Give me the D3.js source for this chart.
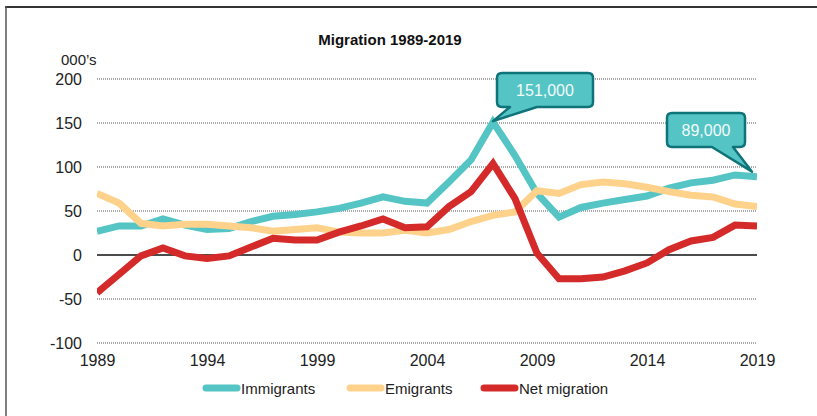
<!DOCTYPE html>
<html>
<head>
<meta charset="utf-8">
<script src="https://cdn.jsdelivr.net/npm/d3@7"></script>
<style>
html,body{margin:0;padding:0;background:#fff;}
svg{display:block;}
text{font-family:"Liberation Sans",Arial,sans-serif;}
</style>
</head>
<body>
<svg id="chart" width="817" height="416"></svg>
<script>
const years = [1989,1990,1991,1992,1993,1994,1995,1996,1997,1998,1999,2000,2001,2002,2003,2004,2005,2006,2007,2008,2009,2010,2011,2012,2013,2014,2015,2016,2017,2018,2019];
const immigrants = [27,33,33,41,34,29,30,38,44,46,49,53,59,66,61,59,83,108,151,113,70,43,54,59,63,67,76,82,85,91,89];
const emigrants = [70,59,36,33,35,35,33,31,27,29,31,26,25,25,28,25,29,38,45,49,73,70,80,83,81,77,72,68,66,58,55];
const netMigration = [-43,-22,-1,8,-1,-4,-1,9,19,17,17,26,33,41,31,32,55,72,104,64,2,-27,-27,-25,-18,-9,6,16,20,34,33];
const seriesNames = ["Immigrants","Emigrants","Net migration"];
const yTicks = [-100,-50,0,50,100,150,200];
const xTicks = [1989,1994,1999,2004,2009,2014,2019];
const callouts = [{year:2007, value:151, label:"151,000"},{year:2019, value:89, label:"89,000"}];
const title = "Migration 1989-2019";
const unitLabel = "000’s";

const colors = ["#55C4C4","#FFD28C","#D52A2A"];
const seriesData = [immigrants, emigrants, netMigration];

const svg = d3.select("#chart");
const x = d3.scaleLinear().domain([1989,2019]).range([97,757]);
const y = d3.scaleLinear().domain([-100,200]).range([343,79]);

// frame
svg.append("line").attr("x1",5).attr("x2",817).attr("y1",7).attr("y2",7).attr("stroke","#333").attr("stroke-width",2);
svg.append("line").attr("x1",6).attr("x2",6).attr("y1",6).attr("y2",416).attr("stroke","#555").attr("stroke-width",1.5);

// title
svg.append("text").attr("x",390).attr("y",45).attr("text-anchor","middle")
  .attr("font-size",15).attr("font-weight","bold").attr("fill","#111").text(title);
svg.append("text").attr("x",61).attr("y",65).attr("font-size",15).attr("fill","#222").text(unitLabel);

// grid
const grid = svg.append("g");
yTicks.forEach(t=>{
  grid.append("line").attr("x1",97).attr("x2",757).attr("y1",y(t)).attr("y2",y(t))
    .attr("stroke", t===0 ? "#111" : "#555")
    .attr("stroke-width", t===0 ? 1.5 : 1)
    .attr("stroke-dasharray", t===0 ? null : "1,1");
});

// y axis labels
const yAxis = d3.axisLeft(y).tickValues(yTicks).tickSize(0).tickPadding(0).tickFormat(d=>String(d));
const gy = svg.append("g").attr("transform","translate(82,0)").call(yAxis);
gy.select(".domain").remove();
gy.selectAll("text").attr("font-size",16).attr("fill","#222").attr("font-family","Liberation Sans, Arial, sans-serif");

// x axis labels
const xAxis = d3.axisBottom(x).tickValues(xTicks).tickSize(0).tickPadding(0).tickFormat(d=>String(d));
const gx = svg.append("g").attr("transform","translate(0,355)").call(xAxis);
gx.select(".domain").remove();
gx.selectAll("text").attr("font-size",16).attr("fill","#222").attr("font-family","Liberation Sans, Arial, sans-serif");

// clip
svg.append("clipPath").attr("id","plotclip").append("rect").attr("x",97).attr("y",0).attr("width",660).attr("height",416);

const line = d3.line().x((d,i)=>x(years[i])).y(d=>y(d));
const lines = svg.append("g").attr("clip-path","url(#plotclip)");
seriesData.forEach((s,k)=>{
  lines.append("path").datum(s).attr("d",line).attr("fill","none")
    .attr("stroke",colors[k]).attr("stroke-width",7).attr("stroke-linejoin","miter");
});

// callouts
const boxes = [
  {x0:497,y0:73,w:96,h:34,b1:510,b2:537},
  {x0:667,y0:113,w:78,h:34,b1:712,b2:733}
];
callouts.forEach((c,i)=>{
  const b = boxes[i];
  const tx = x(c.year) - (i===1?5:0), ty = y(c.value) - (i===1?5:1);
  const r = 5, x0=b.x0, y0=b.y0, x1=b.x0+b.w, y1=b.y0+b.h;
  const p = d3.path();
  p.moveTo(x0+r,y0);
  p.lineTo(x1-r,y0); p.quadraticCurveTo(x1,y0,x1,y0+r);
  p.lineTo(x1,y1-r); p.quadraticCurveTo(x1,y1,x1-r,y1);
  p.lineTo(b.b2,y1); p.lineTo(tx,ty); p.lineTo(b.b1,y1);
  p.lineTo(x0+r,y1); p.quadraticCurveTo(x0,y1,x0,y1-r);
  p.lineTo(x0,y0+r); p.quadraticCurveTo(x0,y0,x0+r,y0);
  p.closePath();
  svg.append("path").attr("d",p.toString()).attr("fill","#55C4C4").attr("stroke","#0E747A").attr("stroke-width",2.5).attr("stroke-linejoin","round");
  svg.append("text").attr("x",x0+b.w/2).attr("y",y0+b.h/2+6).attr("text-anchor","middle")
    .attr("font-size",16).attr("fill","#F2FBFB").text(c.label);
});

// legend
const legendX = [203,347,481];
const lg = svg.append("g");
seriesNames.forEach((n,k)=>{
  lg.append("line").attr("x1",legendX[k]+3).attr("x2",legendX[k]+34).attr("y1",388).attr("y2",388)
    .attr("stroke",colors[k]).attr("stroke-width",7).attr("stroke-linecap","round");
  lg.append("text").attr("x",legendX[k]+38).attr("y",393.5).attr("font-size",15).attr("fill","#222").text(n);
});
</script>
</body>
</html>
